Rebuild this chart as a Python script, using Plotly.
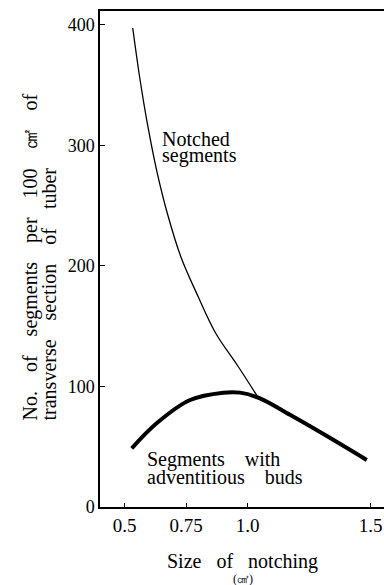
import plotly.graph_objects as go

# Size of notching (cm^2) and number of segments per 100 cm^2 of tuber section
notched_x = [0.533, 0.5617, 0.5942, 0.6308, 0.6755, 0.7288, 0.7995, 0.8697, 0.9601, 1.0405]
notched_y = [397.5, 356.0, 316.2, 278.8, 242.3, 207.5, 174.3, 144.4, 117.0, 91.5]

buds_x = [0.529, 0.630, 0.766, 0.901, 0.969, 1.050, 1.172, 1.308, 1.484]
buds_y = [48.7, 69.5, 88.8, 94.9, 94.9, 90.2, 76.5, 60.5, 39.0]

x_ticks = [0.5, 0.75, 1.0, 1.5]
x_tick_labels = ["0.5", "0.75", "1.0", "1.5"]
y_ticks = [0, 100, 200, 300, 400]

SERIF = "Liberation Serif"
NB = "\u00a0"

fig = go.Figure()
fig.add_trace(go.Scatter(
    x=notched_x, y=notched_y, mode="lines",
    line=dict(color="black", width=1.3, shape="spline", smoothing=1.0),
    hoverinfo="skip", showlegend=False))
fig.add_trace(go.Scatter(
    x=buds_x, y=buds_y, mode="lines",
    line=dict(color="black", width=4, shape="spline", smoothing=1.0),
    hoverinfo="skip", showlegend=False))

W, H = 384, 585
L, R, T, B = 100, 0, 11, 78
pw, ph = W - L - R, H - T - B


def px(xp):
    return (xp - L) / pw


def py(yp):
    return (H - B - yp) / ph


def note(text, x, y, size=20, xanchor="left", angle=0, yanchor="middle"):
    fig.add_annotation(text=text, x=x, y=y, xref="paper", yref="paper",
                       xanchor=xanchor, yanchor=yanchor, textangle=angle,
                       showarrow=False, font=dict(family=SERIF, size=size, color="black"))


sp = NB * 4
gap = NB * 3 + "\u2009"
note("Notched", px(160), py(139))
note("segments", px(160), py(155.7))
note("Segments" + sp + "with", px(145), py(459))
note("adventitious" + sp + "buds", px(145), py(477))

note("Size" + NB * 3 + "of" + NB * 3 + "notching", px(242.5), py(561), xanchor="center")
note("(\u33a0)", px(242.5), py(579), size=12, xanchor="center")

note("No." + gap + "of" + gap + "segments" + gap + "per" + gap + "100" + gap + "\u33a0" + gap + "of",
     px(30), py(423), angle=-90, xanchor="center", yanchor="bottom")
note("transverse" + gap + "section" + gap + "of" + gap + "tuber",
     px(48), py(423), angle=-90, xanchor="center", yanchor="bottom")

fig.update_layout(
    width=W, height=H,
    margin=dict(l=L, r=R, t=T, b=B, pad=0),
    paper_bgcolor="white", plot_bgcolor="white",
    font=dict(family=SERIF, color="black"),
    xaxis=dict(range=[0.40, 1.554], tickvals=x_ticks, ticktext=x_tick_labels,
               ticks="inside", ticklen=4, tickcolor="black", tickwidth=1.2,
               showline=True, linecolor="black", linewidth=1.5, mirror=True,
               showgrid=False, zeroline=False,
               tickfont=dict(family=SERIF, size=19, color="black")),
    yaxis=dict(range=[0, 411.6], tickvals=y_ticks,
               ticks="inside", ticklen=5, tickcolor="black", tickwidth=1.2,
               showline=True, linecolor="black", linewidth=1.5,
               showgrid=False, zeroline=False,
               tickfont=dict(family=SERIF, size=18, color="black")),
)

fig.write_html("out.html")
